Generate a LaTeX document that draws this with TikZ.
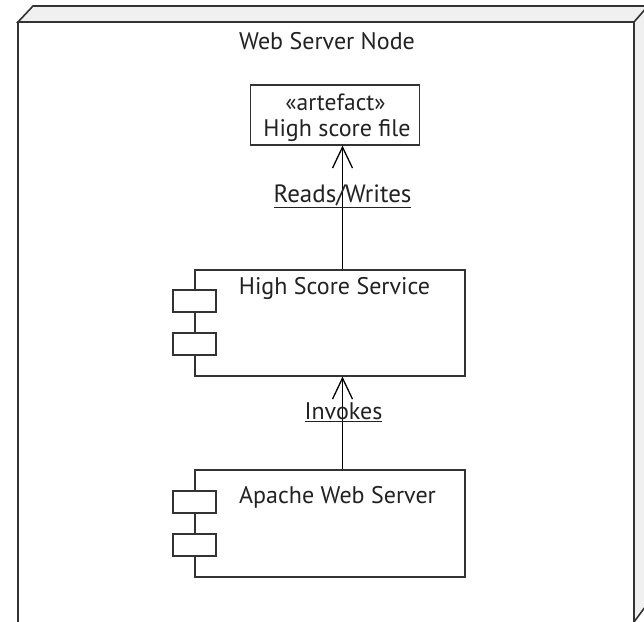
\documentclass[tikz,border=0pt]{standalone}
\usepackage{fontspec}
\setmainfont{PT Sans}
\usetikzlibrary{arrows.meta}
\definecolor{ln}{HTML}{333333}
\definecolor{face}{HTML}{F0F0F0}
\definecolor{txt}{HTML}{222222}
\tikzset{
  x=1pt,y=-1pt,
  edge/.style={draw=ln,line width=1.6pt},
  label/.style={inner sep=0pt,text=txt,font=\fontsize{24}{28}\selectfont},
  box/.style={edge,fill=white,minimum width=#1,inner sep=0pt,anchor=north west},
  rel/.style={draw=black,line width=1.6pt,-{Straight Barb[length=21pt,width=20pt,line width=1.3pt]}},
  tab/.style={edge,fill=white,minimum width=43pt,minimum height=22pt,inner sep=0pt}
}
\begin{document}
\begin{tikzpicture}
\useasboundingbox (0,0) rectangle (644,621);
\begin{scope}
\clip (0,0) rectangle (644,621);
\path[edge,fill=face] (18,22) -- (33,6) -- (648,6) -- (648,603) -- (634,622) -- (634,22) -- cycle;
\draw[edge] (634,22) -- (648,6);
\draw[edge,fill=white] (18,22) rectangle (634,640);
\end{scope}
\node[label] (title) at (327,41) {Web Server Node};
\node[box=169pt,minimum height=60pt] (art) at (249.5,84) {};
\node[label] (stereo) at (335.5,102) {\fontsize{23.5}{26}\selectfont «artefact»};
\node[label] (arttext) at (337,131) {High score file};
\node[box=270pt,minimum height=106pt] (hss) at (194,269) {};
\node[box=270pt,minimum height=107pt] (apache) at (194,469) {};
\node[tab] (t1) at (194.5,301) {};
\node[tab] (t2) at (194.5,344) {};
\node[tab] (t3) at (194.5,502) {};
\node[tab] (t4) at (194.5,545) {};
\node[label] (hsst) at (334.5,288) {High Score Service};
\node[label] (apt) at (337.5,497) {Apache Web Server};
\coordinate (axis) at (342.5,0);
\draw[rel] (hss.north -| axis) -- (art.south -| axis);
\draw[rel] (apache.north -| axis) -- (hss.south -| axis);
\node[label] (rw) at (342.5,196) {\fontsize{25}{28}\selectfont\underline{Reads/Writes}};
\node[label] (inv) at (343.5,412) {\underline{Invokes}};
\end{tikzpicture}
\end{document}
